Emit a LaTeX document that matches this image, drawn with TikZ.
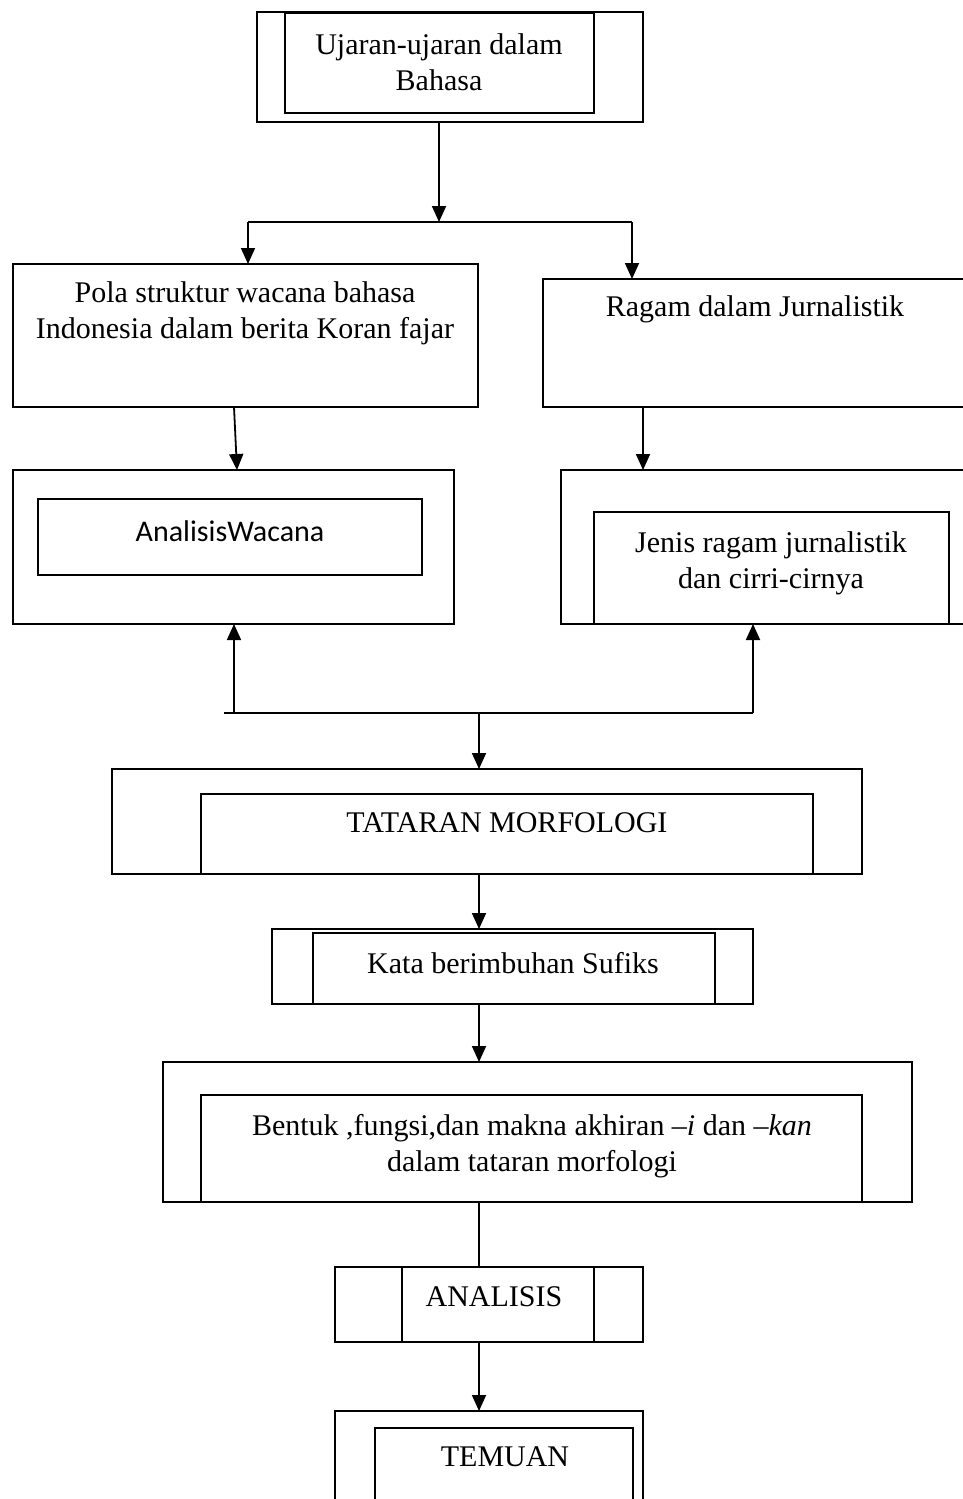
\documentclass[tikz,border=0pt]{standalone}
\usepackage{fontspec}
\setmainfont{Liberation Serif}
\newfontfamily\calibfont{Carlito}
\usetikzlibrary{arrows.meta}
\newcommand\pbox[5]{\node[bx, minimum width={#4-#2}, minimum height={#5-#3}] (#1) at ({(#2+#4)/2},{-(#3+#5)/2}) {};}
\begin{document}
\begin{tikzpicture}[x=1pt,y=1pt,line width=1.8pt,
  bx/.style={draw, rectangle, inner sep=0pt, outer sep=0pt},
  txt/.style={font=\fontsize{30}{36}\selectfont, align=center, inner sep=0pt},
  arr/.style={-{Triangle[length=16pt,width=14pt]}}]
\useasboundingbox (0,0) rectangle (963,-1499);
\clip (0,0) rectangle (963,-1499);
% boxes
\pbox{topo}{257}{12}{643}{122}
\pbox{topi}{285}{13}{594}{113}
\pbox{pola}{13}{264}{478}{407}
\pbox{ragam}{543}{279}{985}{407}
\pbox{aw}{13}{470}{454}{624}
\pbox{awi}{38}{499}{422}{575}
\pbox{jenis}{561}{470}{985}{624}
\pbox{jenisi}{594}{512}{949}{624}
\pbox{tat}{112}{769}{862}{874}
\pbox{tati}{201}{794}{813}{874}
\pbox{kata}{272}{929}{753}{1004}
\pbox{katai}{313}{933}{715}{1004}
\pbox{bent}{163}{1062}{912}{1202}
\pbox{benti}{201}{1095}{862}{1202}
\pbox{anal}{335}{1267}{643}{1342}
\pbox{anali}{402}{1267}{594}{1342}
\pbox{tem}{335}{1411}{643}{1530}
\pbox{temi}{375}{1428}{633}{1530}
% texts
\node[txt] (t1) at (439,-62) {Ujaran-ujaran dalam\\Bahasa};
\node[txt] (t2) at (245,-313) {Pola struktur wacana bahasa\\Indonesia dalam berita Koran fajar};
\node[txt] (t3) at (755,-309) {Ragam dalam Jurnalistik};
\node[txt, font=\calibfont\fontsize{30}{36}\selectfont] (t4) at (230,-531) {AnalisisWacana};
\node[txt] (t5) at (771,-563) {Jenis ragam jurnalistik\\dan cirri-cirnya};
\node[txt] (t6) at (507,-823) {TATARAN MORFOLOGI};
\node[txt] (t7) at (513,-963) {Kata berimbuhan Sufiks};
\node[txt] (t8) at (532,-1146) {Bentuk ,fungsi,dan makna akhiran \textit{–i} dan \textit{–kan}\\dalam tataran morfologi};
\node[txt] (t9) at (494,-1297) {ANALISIS};
\node[txt] (t10) at (505,-1457) {TEMUAN};
% connectors
\coordinate (j1) at (439,-222);
\coordinate (jl) at (248,-222);
\coordinate (jr) at (632,-222);
\draw[arr] (j1 |- topo.south) -- (j1);
\draw (jl) -- (jr);
\draw[arr] (jl) -- (jl |- pola.north);
\draw[arr] (jr) -- (jr |- ragam.north);
\draw[arr] ([xshift=-11.5pt]pola.south) -- ([xshift=3.5pt]aw.north);
\draw[arr] ([xshift=-121pt]ragam.south) -- ([xshift=-130pt]jenis.north);
\coordinate (bs) at (224,-713);
\coordinate (bl) at (234,-713);
\coordinate (br) at (753,-713);
\coordinate (bm) at (479,-713);
\draw (bs) -- (br);
\draw[arr] (bl) -- (bl |- aw.south);
\draw[arr] (br) -- (br |- jenis.south);
\draw[arr] (bm) -- (bm |- tat.north);
\draw[arr] (bm |- tat.south) -- (bm |- kata.north);
\draw[arr] (bm |- kata.south) -- (bm |- bent.north);
\draw (bm |- bent.south) -- (bm |- anal.north);
\draw[arr] (bm |- anal.south) -- (bm |- tem.north);
\end{tikzpicture}
\end{document}
